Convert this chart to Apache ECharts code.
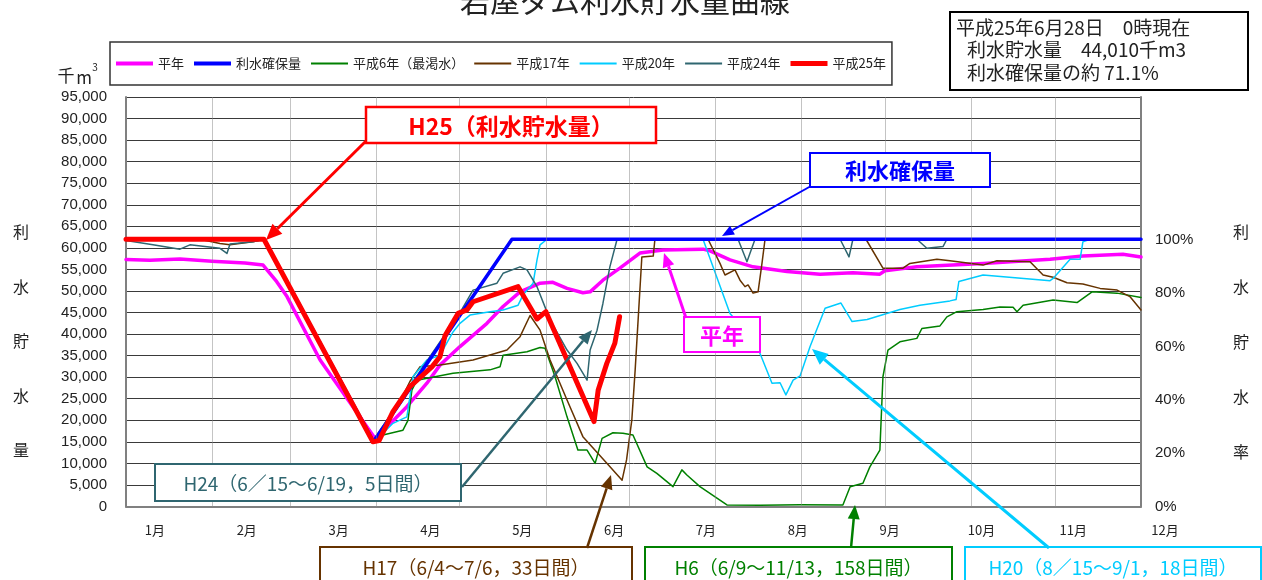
<!DOCTYPE html>
<html><head><meta charset="utf-8">
<script src="https://cdn.jsdelivr.net/npm/echarts@6/dist/echarts.min.js"></script>
<style>html,body{margin:0;padding:0;background:#fff;}#c{width:1262px;height:580px;}</style>
</head><body><div id="c"></div>
<script>
// x = day of year (0 = Jan 1, 365 = Dec 31 end), y = 千m3
const months = ['1月','2月','3月','4月','5月','6月','7月','8月','9月','10月','11月','12月'];
const monthStarts = [31,59,90,120,151,181,212,243,273,304,334];
const capacity100 = 61900; // 100% 利水確保量
const seriesNames = ['平年','利水確保量','平成6年（最渇水）','平成17年','平成20年','平成24年','平成25年'];

const heinen = [[0,57300],[8.6,57100],[19.4,57400],[30.9,56900],[42.8,56500],[49.3,56000],[54.2,52150],[57.9,48700],[69.8,34000],[89.9,15500],
 [93.9,18500],[101.0,23150],[108.2,28600],[112.9,32800],[120.1,37100],[129.8,42500],[135.6,46400],[141.7,49800],[148.9,51800],[153.5,52000],
 [158.6,50600],[164.3,49600],[166.9,49800],[171.5,52500],[177.6,55300],[184.8,58800],[193.1,59500],[207.5,59700],[210.0,59300],[217.2,57200],
 [225.5,55600],[237.7,54500],[249.6,53900],[261.4,54200],[271.1,53900],[272.9,54700],[284.4,55600],[308.2,56400],[332.3,57350],[344.1,58100],
 [358.5,58500],[365,57900]];
const rikakuho = [[0,62000],[49.6,62000],[89.0,15000],[138.8,62000],[365,62000]];
const h6 = [[0,62000],[49.6,62000],[88.8,15300],[92.4,16600],[99.6,17700],[101.4,20000],[102.8,27000],[104.6,29300],[117.6,30900],[130.9,31700],
 [134.5,32400],[135.6,35100],[144.2,35900],[148.9,36900],[150.7,36700],[154.3,30100],[158.6,20800],[162.5,13100],[165.8,13100],[168.7,10000],
 [171.2,15800],[175.1,17100],[178.7,17000],[182.3,16600],[187.4,9200],[190.9,7700],[196.7,4600],[199.9,8500],[201.7,7300],[206.4,4600],[216.1,350],
 [228.0,300],[242.4,400],[257.8,350],[260.4,4600],[265.0,5400],[267.5,9200],[271.1,13100],[272.2,30100],[274.0,36300],[278.3,38200],
 [284.4,39000],[286.2,41300],[292.7,41900],[295.2,44000],[298.8,45200],[308.2,45700],[314.3,46300],[319.0,46200],[320.4,45200],[322.6,46700],
 [333.4,47900],[342.0,47300],[347.4,49800],[356.4,49500],[365,48500]];
const h17 = [[0,62000],[26.6,62000],[33.8,61000],[37.4,60700],[42.8,61200],[45.7,61400],[49.6,62000],[88.8,15300],[96.7,22000],[102.1,29000],
 [105.7,32400],[112.9,32800],[124.8,34000],[137.0,36300],[141.7,39400],[145.3,44300],[148.9,40900],[152.5,34000],[158.6,24700],[164.3,16200],
 [173.0,10000],[178.4,6100],[180.0,10800],[181.9,20100],[183.1,31700],[184.3,44800],[185.5,57900],[189.6,58100],[190.2,62000],[209.3,62000],
 [213.6,56400],[215.4,53700],[219.0,54900],[220.8,52500],[222.6,51000],[223.7,51400],[225.5,49500],[227.3,49800],[228.7,56400],[229.8,62000],
 [266.1,62000],[272.2,55300],[279.4,55300],[281.9,56400],[291.6,57350],[296.3,57000],[308.2,56000],[313.2,57000],[325.1,56800],[329.8,53700],
 [333.4,53200],[338.4,51900],[344.1,51600],[350.3,50600],[356.4,50200],[361.0,48700],[365,45600]];
const h20 = [[0,62000],[49.6,62000],[88.8,15300],[92.4,17000],[96.0,19300],[101.0,20800],[103.2,30100],[108.2,34000],[112.9,35100],[117.6,40500],
 [120.1,42500],[123.7,44400],[130.9,45200],[135.6,45600],[141.0,46700],[142.8,49100],[146.4,51800],[147.8,57200],[148.9,60700],[151.4,62000],
 [207.5,62000],[217.2,44800],[225.5,38600],[228.0,35500],[232.3,28600],[235.2,28700],[237.3,25900],[239.9,29300],[242.4,30300],[246.0,37100],
 [251.4,46000],[257.1,47200],[261.1,42900],[266.5,43400],[278.3,45700],[285.5,46700],[296.3,47700],[298.5,48000],[299.5,52200],[308.2,53700],
 [332.3,52400],[333.4,52900],[339.5,57350],[343.1,57350],[344.1,61400],[346.7,62000],[365,62000]];
const h24 = [[0,61700],[9.7,60700],[19.4,59700],[23.0,60700],[33.8,59900],[36.3,58700],[37.4,60900],[45.7,61400],[49.6,62000],[88.8,15300],
 [120.1,45000],[124.8,50200],[133.4,51800],[135.6,54100],[141.7,55600],[144.2,54900],[147.8,51000],[152.5,43300],[158.6,36300],[162.2,33200],
 [165.8,29300],[166.9,36300],[169.4,40900],[171.5,47100],[174.0,55600],[176.6,62000],[220.1,62000],[223.3,56800],[226.2,62000],[256.8,62000],
 [260.0,57900],[261.4,62000],[284.4,62000],[288.0,59900],[293.8,60300],[295.2,62000],[365,62000]];
const h25 = [[0,62000],[49.6,62000],[88.8,15000],[91.0,15300],[96.0,22000],[102.1,27800],[110.0,32400],[112.9,34750],[114.7,39600],[119.4,44800],
 [122.6,45600],[124.8,47500],[141.0,51000],[141.7,51400],[147.8,43500],[151.0,45200],[168.3,19700],[169.8,27000],[172.9,33200],[175.8,37900],
 [177.5,44010]];

const FONT = "'Noto Sans CJK JP', sans-serif";
const NUMFONT = "'Liberation Sans', Arial, sans-serif";
const iconThick = {'平年':4,'利水確保量':4,'平成25年':5};

function mkLine(name, data, color, width, z){
  return {name, type:'line', data, symbol:'none', smooth:false, z, xAxisIndex:0, yAxisIndex:0,
    lineStyle:{color, width, cap:'round', join:'round'}, itemStyle:{color}, silent:true};
}
function arrow(x1,y1,x2,y2,color,w,hl,hw){
  const dx=x2-x1, dy=y2-y1, L=Math.hypot(dx,dy), ux=dx/L, uy=dy/L;
  const bx=x2-ux*hl, by=y2-uy*hl, px=-uy*hw, py=ux*hw;
  return [{type:'line', z:100, shape:{x1,y1,x2:bx,y2:by}, style:{stroke:color,lineWidth:w}},
    {type:'polygon', z:100, shape:{points:[[x2,y2],[bx+px,by+py],[bx-px,by-py]]}, style:{fill:color}}];
}
function box(x,y,w,h,color,lw,text,size,weight){
  return [{type:'rect', z:100, shape:{x,y,width:w,height:h}, style:{fill:'#fff',stroke:color,lineWidth:lw}},
    {type:'text', z:101, x:x+w/2, y:y+h/2+1, style:{text, fill:color, fontSize:size, fontWeight:weight||'normal', fontFamily:FONT, align:'center', verticalAlign:'middle'}}];
}
function txt(x,y,text,size,opts){
  return Object.assign({type:'text', z:101, x, y, style:Object.assign({text, fill:'#222', fontSize:size, fontFamily:FONT, align:'center', verticalAlign:'middle'}, opts||{})});
}

const graphics = [];
graphics.push(txt(625,1,'岩屋ダム利水貯水量曲線',30,{fill:'#222'}));
graphics.push({type:'rect', z:100, shape:{x:950,y:12,width:298,height:78}, style:{fill:'#fff',stroke:'#000',lineWidth:2}});
graphics.push(txt(956,28,'平成25年6月28日　0時現在',19,{align:'left'}));
graphics.push(txt(967,50,'利水貯水量　44,010千m3',19,{align:'left'}));
graphics.push(txt(967,73,'利水確保量の約 71.1%',19,{align:'left'}));
graphics.push(txt(66,76,'千',17));
graphics.push(txt(84,78,'m',17));
graphics.push(txt(95,67,'3',10));
['利','水','貯','水','量'].forEach((c,i)=>graphics.push(txt(21,232+i*54.5,c,16)));
['利','水','貯','水','率'].forEach((c,i)=>graphics.push(txt(1241,232+i*55,c,16)));
graphics.push(...box(366,107,290,36,'#ff0000',2.5,'H25（利水貯水量）',23,'bold'));
graphics.push(...arrow(366,141,266,240,'#ff0000',3,16,7));
graphics.push(...box(810,153,180,34,'#0000ff',2,'利水確保量',22,'bold'));
graphics.push(...arrow(811,186,722,236,'#0000ff',2,12,5));
graphics.push(...box(684,317,76,35,'#ff00ff',2,'平年',22,'bold'));
graphics.push(...arrow(686,318,664,253,'#ff00ff',3,14,6));
graphics.push(...box(155,464,306,37,'#2f6670',2,'H24（6／15～6/19，5日間）',19));
graphics.push(...arrow(462,487,592,330,'#2f6670',2.5,14,6));
graphics.push(...box(320,547,312,40,'#663300',2,'H17（6/4～7/6，33日間）',19));
graphics.push(...arrow(587,548,611,475,'#663300',2.5,14,6));
graphics.push(...box(645,547,307,40,'#008000',2,'H6（6/9～11/13，158日間）',19));
graphics.push(...arrow(851,548,855,505,'#008000',2.5,14,6));
graphics.push(...box(965,547,296,40,'#00ccff',2,'H20（8／15～9/1，18日間）',19));
graphics.push(...arrow(1049,548,812,349,'#00ccff',3,16,7));

const option = {
  animation:false,
  textStyle:{fontFamily:FONT},
  grid:[{left:126,right:121,top:97,bottom:73.5},{left:109,right:51,top:97,bottom:73.5}],
  legend:{data:seriesNames.map(n=>({name:n, icon:'path://M0,0H37V'+(iconThick[n]||2)+'H0Z'})),
    left:110, top:42, padding:[15,6,15,6], itemWidth:37, itemHeight:14, itemGap:10,
    borderColor:'#333', borderWidth:1.5, backgroundColor:'#fff', textStyle:{fontSize:13,color:'#222',fontFamily:FONT}},
  xAxis:[
    {type:'value', gridIndex:0, min:0, max:365, axisLabel:{show:false}, axisTick:{show:false}, splitLine:{show:false},
      axisLine:{show:true, lineStyle:{color:'#808080', width:2}}},
    {type:'category', gridIndex:1, data:months, boundaryGap:true, axisLine:{show:false}, axisTick:{show:false},
      axisLabel:{margin:17, fontSize:13, color:'#222', fontFamily:FONT}}
  ],
  yAxis:[
    {type:'value', gridIndex:0, min:0, max:95000, interval:5000, position:'left',
      axisLabel:{margin:19, fontSize:15, color:'#222', fontFamily:NUMFONT, formatter:v=>v.toLocaleString('en-US')},
      axisLine:{show:true, lineStyle:{color:'#808080', width:2}}, axisTick:{show:false},
      splitLine:{show:true, lineStyle:{color:'#3a3a3a', width:1}}},
    {type:'value', gridIndex:0, min:0, max:95000/capacity100*100, interval:20, position:'right',
      axisLabel:{margin:14, fontSize:15, color:'#222', fontFamily:NUMFONT, formatter:v=>v<=100?Math.round(v)+'%':''},
      axisLine:{show:true, lineStyle:{color:'#808080', width:2}}, axisTick:{show:false}, splitLine:{show:false}},
    {type:'value', gridIndex:1, min:0, max:1, show:false}
  ],
  series:[
    {name:'grid', type:'line', data:[[0,0]], symbol:'none', lineStyle:{opacity:0}, z:1, silent:true,
      markLine:{silent:true, symbol:['none','none'], label:{show:false}, lineStyle:{color:'#888', type:'dotted', width:1},
        data:monthStarts.map(d=>({xAxis:d}))}},
    mkLine('平年', heinen, '#ff00ff', 3.5, 2),
    mkLine('平成6年（最渇水）', h6, '#008000', 1.5, 3),
    mkLine('平成17年', h17, '#663300', 1.5, 3),
    mkLine('平成20年', h20, '#00ccff', 1.5, 3),
    mkLine('平成24年', h24, '#2f6670', 1.5, 3),
    mkLine('利水確保量', rikakuho, '#0000ff', 3.5, 4),
    mkLine('平成25年', h25, '#ff0000', 5, 5)
  ],
  graphic:{elements:graphics}
};
const chart = echarts.init(document.getElementById('c'), null, {renderer:'canvas'});
chart.setOption(option);
</script></body></html>
